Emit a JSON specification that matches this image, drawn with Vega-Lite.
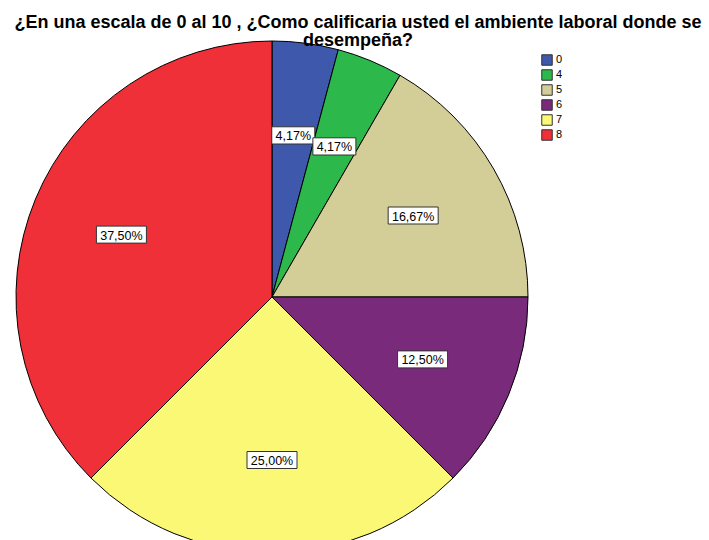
{
  "$schema": "https://vega.github.io/schema/vega-lite/v6.json",
  "autosize": "none",
  "width": 512,
  "height": 512,
  "padding": {"left": 16, "top": 41, "right": 181, "bottom": 0},
  "background": "white",
  "view": {"stroke": null},
  "title": {
    "text": ["¿En una escala de 0 al 10 , ¿Como calificaria usted el ambiente laboral donde se", "desempeña?"],
    "font": "Liberation Sans",
    "fontSize": 18,
    "fontWeight": "bold",
    "color": "black",
    "anchor": "middle",
    "frame": "group",
    "dx": 86,
    "lineHeight": 18.5,
    "offset": -11
  },
  "data": {
    "values": [
      {"cat": "0", "n": 1, "label": "4,17%"},
      {"cat": "4", "n": 1, "label": "4,17%"},
      {"cat": "5", "n": 4, "label": "16,67%"},
      {"cat": "6", "n": 3, "label": "12,50%"},
      {"cat": "7", "n": 6, "label": "25,00%"},
      {"cat": "8", "n": 9, "label": "37,50%"}
    ]
  },
  "layer": [
    {
      "mark": {"type": "arc", "outerRadius": 256, "stroke": "black", "strokeWidth": 1},
      "encoding": {
        "theta": {"field": "n", "type": "quantitative", "stack": true},
        "order": {"field": "cat", "type": "ordinal", "sort": "ascending"},
        "color": {
          "field": "cat",
          "type": "nominal",
          "scale": {"domain": ["0", "4", "5", "6", "7", "8"], "range": ["#3E58AC", "#2DB84B", "#D3CE97", "#7A2A7A", "#FBF876", "#EF3039"]},
          "legend": {
            "title": null,
            "orient": "none",
            "legendX": 525,
            "legendY": 13,
            "symbolType": "square",
            "symbolSize": 110,
            "symbolStrokeColor": "#333333",
            "symbolStrokeWidth": 1,
            "symbolOpacity": 1,
            "labelFont": "Liberation Sans",
            "labelFontSize": 11,
            "labelColor": "black",
            "rowPadding": -1,
            "labelOffset": 3
          }
        }
      }
    },
    {
      "transform": [
        {"joinaggregate": [{"op": "sum", "field": "n", "as": "total"}]},
        {"window": [{"op": "sum", "field": "n", "as": "cum"}], "sort": [{"field": "cat", "order": "ascending"}], "frame": [null, 0]},
        {"calculate": "(datum.cum - datum.n / 2) / datum.total * 2 * PI", "as": "ang"},
        {"calculate": "163 * sin(datum.ang)", "as": "px"},
        {"calculate": "163 * cos(datum.ang)", "as": "py"}
      ],
      "encoding": {
        "x": {"field": "px", "type": "quantitative", "scale": {"domain": [-256, 256]}, "axis": null},
        "y": {"field": "py", "type": "quantitative", "scale": {"domain": [-256, 256]}, "axis": null}
      },
      "layer": [
        {
          "mark": {"type": "point", "filled": true, "fill": "white", "stroke": "#333333", "strokeWidth": 1, "opacity": 1},
          "encoding": {
            "shape": {"condition": {"test": "length(datum.label) > 5", "value": "M-1,-0.34H1V0.34H-1Z"}, "value": "M-1,-0.4H1V0.4H-1Z"},
            "size": {"condition": {"test": "length(datum.label) > 5", "value": 2500}, "value": 1849}
          }
        },
        {
          "mark": {"type": "text", "font": "Liberation Sans", "fontSize": 12.5, "color": "black", "dy": 1},
          "encoding": {"text": {"field": "label"}}
        }
      ]
    }
  ]
}
